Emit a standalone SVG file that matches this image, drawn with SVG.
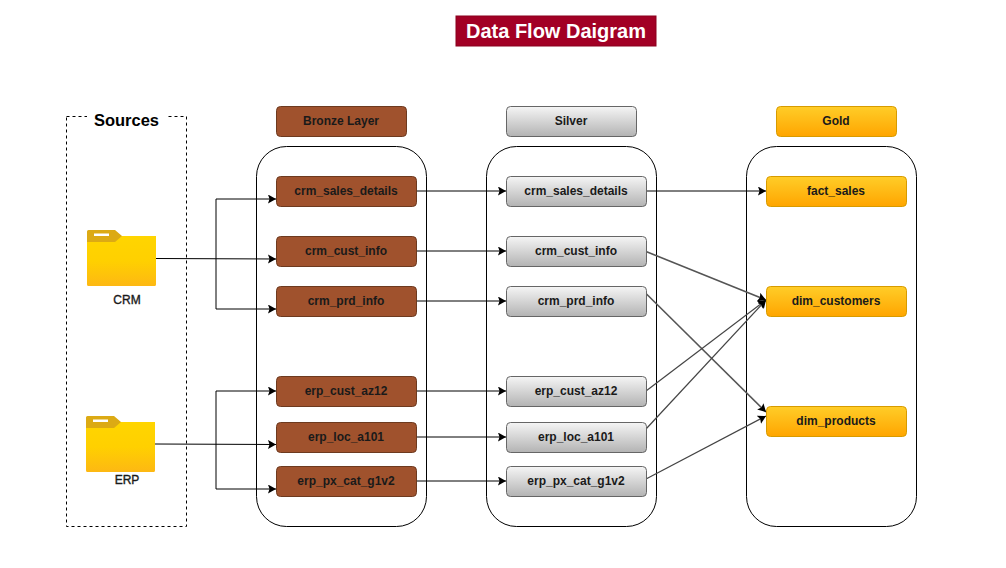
<svg xmlns="http://www.w3.org/2000/svg" width="1006" height="568" viewBox="0 0 1006 568">
<style>
text{font-family:"Liberation Sans",Arial,sans-serif;text-anchor:middle;dominant-baseline:central;font-weight:bold;font-size:12px;fill:#1a1a1a}
.b{fill:#a0522d;stroke:#6d3a1f}
.s{fill:url(#gs);stroke:#666}
.g{fill:url(#gg);stroke:#d79b00}
.box{fill:#fff;stroke:#000;stroke-width:1}
.c{fill:none;stroke:#000;stroke-width:1;marker-end:url(#a)}
.d{fill:none;stroke:#444;stroke-width:1.200;marker-end:url(#a)}
.e{fill:none;stroke:#555;stroke-width:1.600;marker-end:url(#a)}
.l{font-weight:normal;font-size:12px;stroke:#1a1a1a;stroke-width:.35}
</style>
<defs>
<linearGradient id="gs" x1="0" y1="0" x2="0" y2="1"><stop offset="0" stop-color="#f5f5f5"/><stop offset="1" stop-color="#b3b3b3"/></linearGradient>
<linearGradient id="gg" x1="0" y1="0" x2="0" y2="1"><stop offset="0" stop-color="#ffcd28"/><stop offset="1" stop-color="#ffa500"/></linearGradient>
<linearGradient id="gf" x1="0" y1="0" x2="0" y2="1"><stop offset="0" stop-color="#ffd500"/><stop offset=".5" stop-color="#ffd000"/><stop offset="1" stop-color="#fdb813"/></linearGradient>
<marker id="a" markerUnits="userSpaceOnUse" markerWidth="10" markerHeight="10" refX="8" refY="4.500" orient="auto"><path d="M0 0L8 4.500L0 9L1.500 4.500Z" fill="#000"/></marker>
<g id="folder"><path d="M0 6H69V54.500a1.500 1.500 0 0 1-1.500 1.500H1.500a1.500 1.500 0 0 1-1.500-1.500Z" fill="url(#gf)"/><path d="M0 1.500a1.500 1.500 0 0 1 1.500-1.500H28L35 6L28 12H0Z" fill="#dcaa14"/><rect x="7" y="3.500" width="15" height="2.500" fill="#fff"/></g>
</defs>
<rect width="1006" height="568" fill="#fff"/>
<g id="title"><rect x="456" y="16" width="200" height="30" fill="#a20025" stroke="#8a001f"/><text x="556" y="31" style="font-size:20px;fill:#fff">Data Flow Daigram</text></g>
<g id="sources"><rect x="66.500" y="116.500" width="120" height="410" fill="none" stroke="#000" stroke-dasharray="3 3"/><rect x="87" y="108" width="79" height="22" fill="#fff"/><text x="126.500" y="120" style="font-size:16.500px;fill:#000">Sources</text></g>
<g id="bronze-layer"><rect class="box" x="256.500" y="146.500" width="170" height="380" rx="30"/><rect class="b" x="276.500" y="106.500" width="130" height="30" rx="4"/><text x="341" y="120.500">Bronze Layer</text></g>
<g id="silver-layer"><rect class="box" x="486.500" y="146.500" width="170" height="380" rx="30"/><rect class="s" x="506.500" y="106.500" width="130" height="30" rx="4"/><text x="571" y="120.500">Silver</text></g>
<g id="gold-layer"><rect class="box" x="746.500" y="146.500" width="170" height="380" rx="30"/><rect class="g" x="776.500" y="106.500" width="120" height="30" rx="4"/><text x="836" y="120.500">Gold</text></g>
<g id="connectors">
<path class="c" d="M156 258.500L276 259"/><path class="c" d="M216 258.500V199H276"/><path class="c" d="M216 258.500V309H276"/>
<path class="c" d="M155 444L276 444.500"/><path class="c" d="M216 444V391H276"/><path class="c" d="M216 444V489H276"/>
<path class="c" d="M416 191H506"/><path class="c" d="M416 251H506"/><path class="c" d="M416 301H506"/>
<path class="c" d="M416 391H506"/><path class="c" d="M416 437H506"/><path class="c" d="M416 481H506"/>
<path class="c" d="M646 191H766"/>
<path class="e" d="M646 251.500L766 300"/><path class="e" d="M646 293.500L766 412"/>
<path class="d" d="M646 391L766 300"/><path class="d" d="M646 429L766 300"/><path class="d" d="M646 479L766 416"/>
</g>
<g id="crm"><use href="#folder" x="87" y="230"/><text class="l" x="127" y="300">CRM</text></g>
<g id="erp"><use href="#folder" x="86" y="416"/><text class="l" x="127" y="480">ERP</text></g>
<g id="b1"><rect class="b" x="276.500" y="176.500" width="140" height="30" rx="4"/><text x="346" y="190.500">crm_sales_details</text></g>
<g id="b2"><rect class="b" x="276.500" y="236.500" width="140" height="30" rx="4"/><text x="346" y="250.500">crm_cust_info</text></g>
<g id="b3"><rect class="b" x="276.500" y="286.500" width="140" height="30" rx="4"/><text x="346" y="300.500">crm_prd_info</text></g>
<g id="b4"><rect class="b" x="276.500" y="376.500" width="140" height="30" rx="4"/><text x="346" y="390.500">erp_cust_az12</text></g>
<g id="b5"><rect class="b" x="276.500" y="422.500" width="140" height="30" rx="4"/><text x="346" y="436.500">erp_loc_a101</text></g>
<g id="b6"><rect class="b" x="276.500" y="466.500" width="140" height="30" rx="4"/><text x="346" y="480.500">erp_px_cat_g1v2</text></g>
<g id="s1"><rect class="s" x="506.500" y="176.500" width="140" height="30" rx="4"/><text x="576" y="190.500">crm_sales_details</text></g>
<g id="s2"><rect class="s" x="506.500" y="236.500" width="140" height="30" rx="4"/><text x="576" y="250.500">crm_cust_info</text></g>
<g id="s3"><rect class="s" x="506.500" y="286.500" width="140" height="30" rx="4"/><text x="576" y="300.500">crm_prd_info</text></g>
<g id="s4"><rect class="s" x="506.500" y="376.500" width="140" height="30" rx="4"/><text x="576" y="390.500">erp_cust_az12</text></g>
<g id="s5"><rect class="s" x="506.500" y="422.500" width="140" height="30" rx="4"/><text x="576" y="436.500">erp_loc_a101</text></g>
<g id="s6"><rect class="s" x="506.500" y="466.500" width="140" height="30" rx="4"/><text x="576" y="480.500">erp_px_cat_g1v2</text></g>
<g id="g1"><rect class="g" x="766.500" y="176.500" width="140" height="30" rx="4"/><text x="836" y="190.500">fact_sales</text></g>
<g id="g2"><rect class="g" x="766.500" y="286.500" width="140" height="30" rx="4"/><text x="836" y="300.500">dim_customers</text></g>
<g id="g3"><rect class="g" x="766.500" y="406.500" width="140" height="30" rx="4"/><text x="836" y="420.500">dim_products</text></g>
</svg>
